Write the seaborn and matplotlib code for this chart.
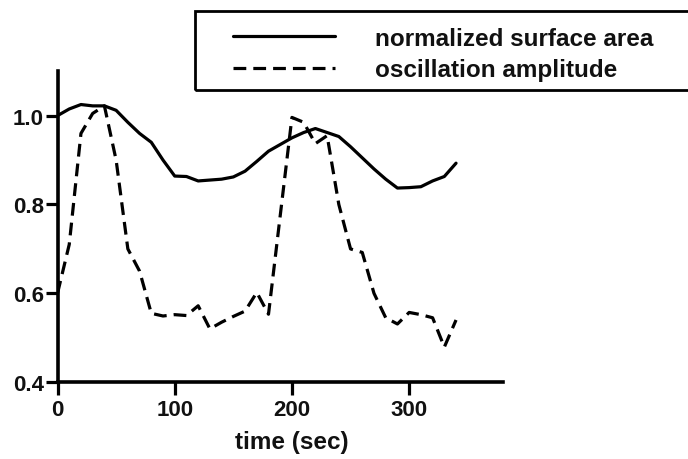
import seaborn as sns
import matplotlib.pyplot as plt
import pandas as pd
from matplotlib.patches import Rectangle

# time points (sec)
time_sec = [0, 10, 20, 30, 40, 50, 60, 70, 80, 90, 100, 110, 120, 130, 140, 150, 160,
            170, 180, 190, 200, 210, 220, 230, 240, 250, 260, 270, 280, 290, 300,
            310, 320, 330, 340]
surface_area = [1.00, 1.015, 1.025, 1.022, 1.022, 1.012, 0.985, 0.96, 0.94, 0.90, 0.864,
                0.863, 0.853, 0.855, 0.857, 0.862, 0.875, 0.897, 0.920, 0.935, 0.950,
                0.962, 0.971, 0.962, 0.953, 0.93, 0.905, 0.88, 0.857, 0.837, 0.838,
                0.84, 0.853, 0.863, 0.893]
osc_amplitude = [0.60, 0.71, 0.96, 1.005, 1.022, 0.90, 0.70, 0.65, 0.555, 0.549, 0.552,
                 0.550, 0.572, 0.52, 0.535, 0.548, 0.560, 0.602, 0.553, 0.775, 0.996,
                 0.985, 0.937, 0.955, 0.80, 0.70, 0.692, 0.60, 0.545, 0.531, 0.557,
                 0.552, 0.545, 0.479, 0.54]

df = pd.DataFrame({"time": time_sec, "surface": surface_area, "osc": osc_amplitude})

sns.set_style("ticks")
plt.rcParams['font.family'] = ['Liberation Sans', 'DejaVu Sans']
plt.rcParams['font.weight'] = 'bold'

fig = plt.figure(figsize=(6.88, 4.6), dpi=100)
ax = fig.add_axes([0.0836, 0.167, 0.6474, 0.676])

sns.lineplot(x="time", y="surface", data=df, ax=ax, color="black", linewidth=2.3,
             label="normalized surface area")
sns.lineplot(x="time", y="osc", data=df, ax=ax, color="black", linewidth=2.3,
             label="oscillation amplitude")
ax.lines[1].set_dashes((4.0, 2.2))

ax.set_xlim(0, 380)
ax.set_ylim(0.4, 1.1)
ax.set_xticks([0, 100, 200, 300])
ax.set_yticks([0.4, 0.6, 0.8, 1.0])
ax.set_yticklabels(["0.4", "0.6", "0.8", "1.0"])
for side in ["top", "right"]:
    ax.spines[side].set_visible(False)
for side in ["left", "bottom"]:
    ax.spines[side].set_linewidth(2.6)
    ax.spines[side].set_color("black")
ax.tick_params(width=2.3, length=9, color="black", labelsize=16, labelcolor="#111111")
ax.tick_params(axis="y", pad=1)
ax.tick_params(axis="x", pad=3)
for lab in ax.get_xticklabels() + ax.get_yticklabels():
    lab.set_fontweight("bold")

ax.set_ylabel("")
ax.set_xlabel("time (sec)", fontsize=17.5, fontweight="bold", color="#111111")
ax.xaxis.set_label_coords(0.526, -0.155)

# legend: frame drawn as its own box, running off the right edge
ax.get_legend().remove()
handles, labels = ax.get_legend_handles_labels()
fig.patches.append(Rectangle((195 / 688, 1 - 91 / 460), 0.75, 79 / 460,
                             transform=fig.transFigure, fill=False,
                             edgecolor="black", linewidth=2))
leg = fig.legend(handles, labels, loc="center left",
                 bbox_to_anchor=(233 / 688, 1 - 55 / 460),
                 frameon=False, handlelength=4.2, handletextpad=1.65,
                 borderpad=0, labelspacing=0.35, borderaxespad=0,
                 prop={"size": 17.5, "weight": "bold"})
for t in leg.get_texts():
    t.set_color("#111111")

plt.savefig("out.png", dpi=100)
